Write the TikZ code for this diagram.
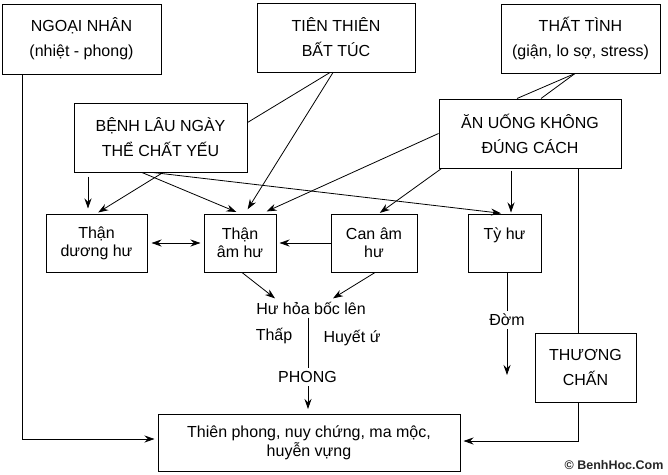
\documentclass[tikz,border=0pt]{standalone}
\usepackage{fontspec}
\setmainfont{Liberation Sans}
\usetikzlibrary{arrows.meta}

\begin{document}
\begin{tikzpicture}[x=1pt, y=-1pt, line width=0.8pt,
      >={Stealth[length=10pt,width=7pt]},
      box/.style = {draw, line width=1pt, align=center, inner sep=0pt,
        font=\fontsize{16}{25}\selectfont},
      small/.style = {box, minimum height=58pt, font=\fontsize{16}{18}\selectfont},
      lbl/.style = {align=center, inner sep=3pt, font=\fontsize{16}{18}\selectfont}]
  \useasboundingbox (0,0) rectangle (668,474);
  \node[box, minimum width=159pt, minimum height=70pt] (ngoai) at (81.5,39) {NGOẠI NHÂN\\(nhiệt - phong)};
  \node[box, minimum width=158pt, minimum height=69pt] (tien) at (336,37.5) {TIÊN THIÊN\\BẤT TÚC};
  \node[box, minimum width=159pt, minimum height=69pt] (that) at (580.5,38.5) {THẤT TÌNH\\(giận, lo sợ, stress)};
  \node[box, minimum width=173pt, minimum height=69pt] (benh) at (160.5,137.5) {BỆNH LÂU NGÀY\\THỂ CHẤT YẾU};
  \node[box, minimum width=182pt, minimum height=69pt] (anuong) at (530,133.5) {ĂN UỐNG KHÔNG\\ĐÚNG CÁCH};
  \node[small, minimum width=101pt] (tduong) at (96.5,243) {Thận\\dương hư};
  \node[small, minimum width=72pt] (tam) at (240,243) {Thận\\âm hư};
  \node[small, minimum width=86pt] (can) at (374,243) {Can âm\\hư};
  \node[small, minimum width=73pt] (ty) at (504.5,243) {Tỳ hư\\\mbox{}};
  \node[lbl] (huhoa) at (311,308) {Hư hỏa bốc lên};
  \node[lbl] (thap) at (274,336) {Thấp};
  \node[lbl] (huyet) at (352,338) {Huyết ứ};
  \node[lbl] (phong) at (307.5,377) {PHONG};
  \node[lbl] (dom) at (507,320) {Đờm};
  \coordinate (domend) at (507,375);
  \node[box, minimum width=101pt, minimum height=69pt] (thuong) at (585.5,367.5) {THƯƠNG\\CHẤN};
  \node[box, minimum width=302pt, minimum height=57pt, font=\fontsize{16}{19}\selectfont] (benhly) at (309,443) {Thiên phong, nuy chứng, ma mộc,\\huyễn vựng};
  \node[font=\bfseries\fontsize{12.5}{14}\selectfont, text=black!85, inner sep=0pt] (web) at (614,465) {© BenhHoc.Com};

  \draw ([xshift=-6pt]tien.south) -- ([yshift=15pt]benh.east);
  \draw[->, shorten >=5pt] ([xshift=-3pt]tien.south) -- ([xshift=5pt]tam.north);
  \draw ([xshift=-5.5pt]that.south) -- ([xshift=-13pt]anuong.north);
  \draw ([xshift=-5.5pt]that.south) -- ([xshift=11pt]anuong.north);
  \draw[->, shorten >=5pt] (anuong.west) -- ([xshift=22pt]tam.north);
  \draw[->, shorten >=1pt] ([xshift=3pt]anuong.south west) -- ([xshift=5pt]can.north);
  \draw[->, shorten >=1pt, shorten <=2pt] ([xshift=6.5pt]ty.north |- anuong.south) -- ([xshift=6.5pt]ty.north);
  \draw ([xshift=48pt]anuong.south) -- ([xshift=48pt]anuong.south |- thuong.north);
  \draw[->, shorten <=4pt, shorten >=5pt] ([xshift=-8.5pt]tduong.north |- benh.south) -- ([xshift=-8.5pt]tduong.north);
  \draw[->, shorten >=2pt] ([xshift=2.5pt]benh.south) -- (tduong.north);
  \draw[->, shorten >=4pt] ([xshift=-18.5pt]benh.south) -- (tam.north);
  \draw[->, shorten >=2pt] ([xshift=-7.5pt]benh.south) -- ([xshift=-1.5pt]ty.north);
  \draw[<->, shorten <=4pt, shorten >=3pt] (tduong.east) -- (tam.west);
  \draw[->, shorten >=3pt] (can.west) -- (tam.east);
  \draw[->] ([xshift=2pt]tam.south) -- ([xshift=-36pt]huhoa.north);
  \draw[->] ([xshift=1pt]can.south) -- ([xshift=22pt]huhoa.north);
  \draw ([xshift=0.5pt]phong.north |- huhoa.south) -- ([xshift=0.5pt]phong.north);
  \draw[->, shorten >=5pt] ([xshift=0.5pt]phong.south) -- ([xshift=0.5pt]phong.south |- benhly.north);
  \draw (dom |- ty.south) -- (dom.north);
  \draw[->] (dom.south) -- (domend);
  \draw[->, shorten >=3pt] ([xshift=21pt]ngoai.south west) |- ([yshift=4pt]benhly.west);
  \draw[->, shorten >=3pt] ([xshift=-7.5pt]thuong.south) |- ([yshift=2pt]benhly.east);
\end{tikzpicture}
\end{document}
